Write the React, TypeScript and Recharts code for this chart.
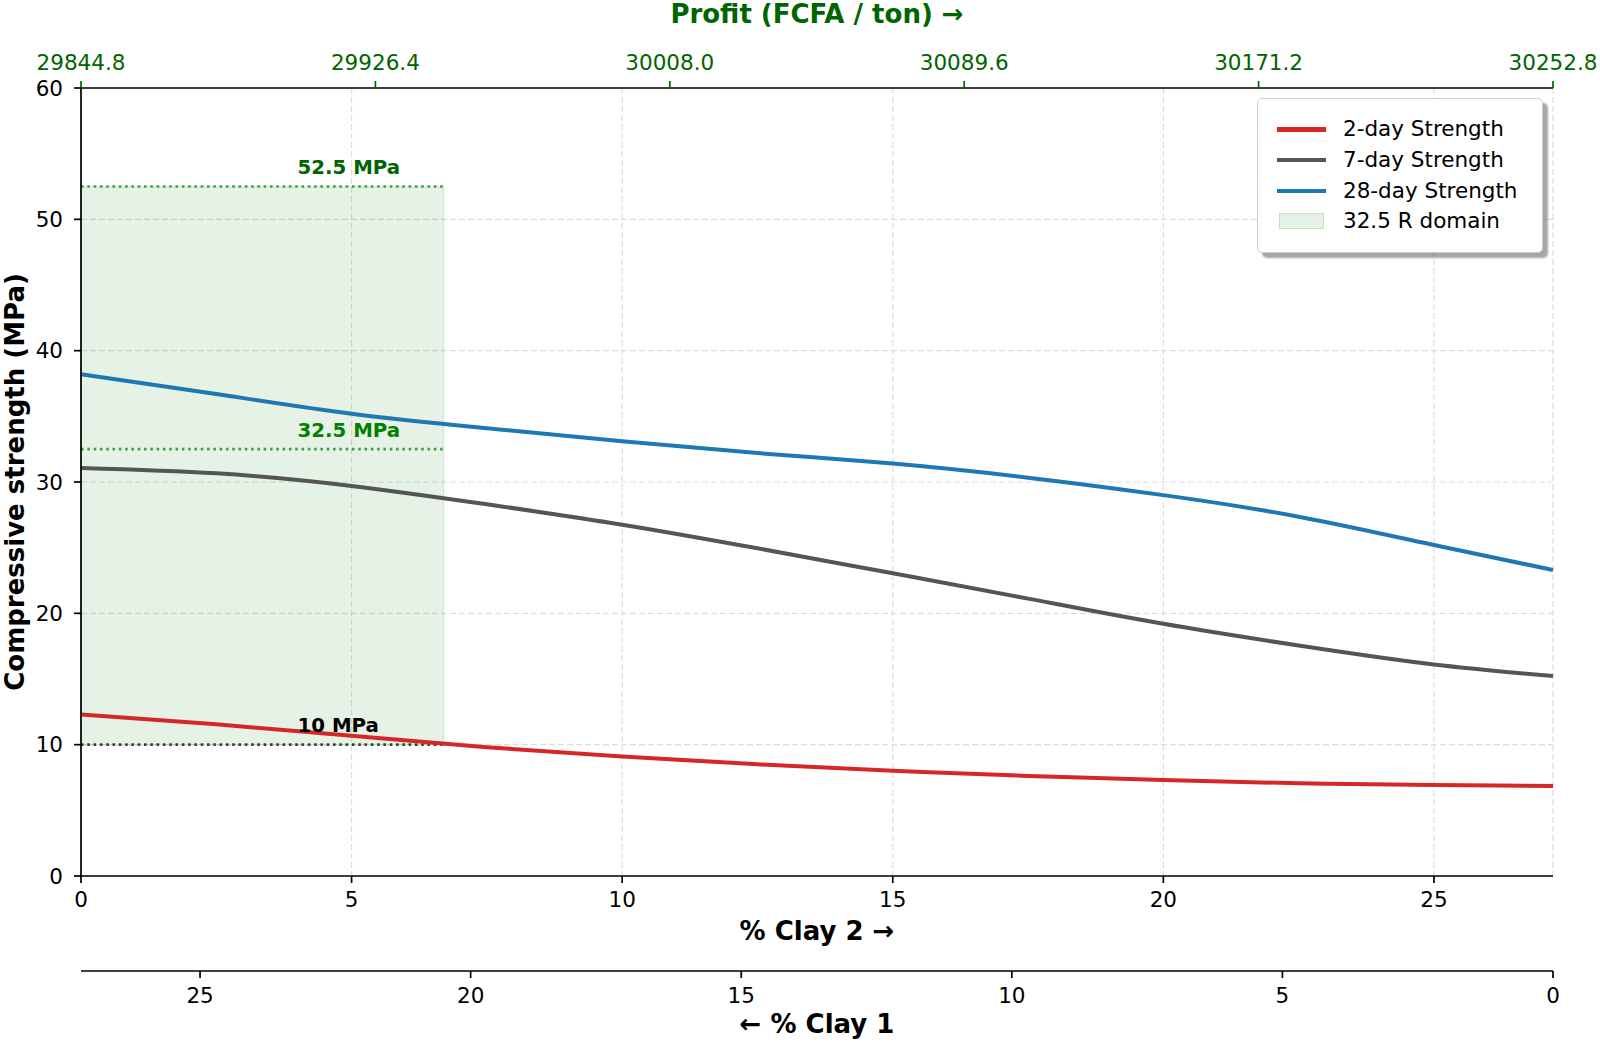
import React from 'react';
import {
  LineChart,
  Line,
  XAxis,
  YAxis,
  CartesianGrid,
  ReferenceArea,
  ReferenceLine,
  ReferenceDot,
  Legend,
} from 'recharts';

// ---------------- data ----------------
const clay2Pct = [0, 2.5, 5, 7.5, 10, 12.5, 15, 17.5, 20, 22.5, 25, 27.2];
const strength2d = [12.3, 11.55, 10.68, 9.8, 9.1, 8.5, 8.02, 7.62, 7.31, 7.06, 6.92, 6.85];
const strength7d = [31.07, 30.66, 29.7, 28.3, 26.75, 24.95, 23.05, 21.12, 19.2, 17.55, 16.1, 15.23];
const strength28d = [38.2, 36.7, 35.2, 34.1, 33.1, 32.2, 31.4, 30.33, 29.0, 27.36, 25.2, 23.3];

const CLAY_TOTAL = 27.2;
const clay2Ticks = [0, 5, 10, 15, 20, 25];
const clay1Ticks = [25, 20, 15, 10, 5, 0];
const strengthTicks = [0, 10, 20, 30, 40, 50, 60];
const profitTicks = [29844.8, 29926.4, 30008.0, 30089.6, 30171.2, 30252.8];

const domain32R = { x1: 0, x2: 6.7, y1: 10, y2: 52.5 };
const thresholdValues = [52.5, 32.5, 10];
const thresholdLabels = ['52.5 MPa', '32.5 MPa', '10 MPa'];
const thresholdLabelX = 4.0;

const seriesKeys = ['s2', 's7', 's28'];
const seriesNames = ['2-day Strength', '7-day Strength', '28-day Strength'];
const areaName = '32.5 R domain';

const P0 = profitTicks[0];
const P1 = profitTicks[profitTicks.length - 1];

const data = clay2Pct.map((c, i) => ({
  clay2: c,
  clay1: CLAY_TOTAL - c,
  profit: P0 + (c / CLAY_TOTAL) * (P1 - P0),
  s2: strength2d[i],
  s7: strength7d[i],
  s28: strength28d[i],
}));

// ---------------- styles ----------------
const seriesColors = ['#d62728', '#555555', '#1f77b4'];
const DARK_GREEN = '#006400';
const thresholdLineColors = ['rgba(0,128,0,0.72)', 'rgba(0,128,0,0.72)', 'rgba(0,0,0,0.72)'];
const thresholdTextColors = ['#006400', '#008000', '#000000'];

const W = 1600;
const H = 1042;
const PLOT_LEFT = 81;
const PLOT_TOP = 88;
const PLOT_W = 1472;
const PLOT_H = 788;
const FONT = '"DejaVu Sans", sans-serif';
const TICK_FS = 21.5;
const LABEL_FS = 26;

const tickStyle = { fill: '#000', fontSize: TICK_FS, fontFamily: FONT };
const lineStyle = { stroke: '#000', strokeWidth: 1.7 };

const boldLabel = (text: string, x: number, y: number, fill = '#000', rotate = false) => (
  <text
    x={x}
    y={y}
    textAnchor="middle"
    fontWeight="bold"
    fontSize={LABEL_FS}
    fontFamily={FONT}
    fill={fill}
    transform={rotate ? `rotate(-90 ${x} ${y})` : undefined}
  >
    {text}
  </text>
);

const renderLegend = () => (
  <div
    style={{
      position: 'relative',
      width: 286,
      height: 155,
      background: '#fff',
      border: '1px solid #cccccc',
      borderRadius: 5,
      boxShadow: '5px 5px 2px rgba(0,0,0,0.35)',
      boxSizing: 'border-box',
      fontFamily: FONT,
    }}
  >
    {[...seriesNames, areaName].map((name, i) => (
      <div
        key={name}
        style={{
          position: 'absolute',
          left: 0,
          top: 30 + 30.8 * i - 15,
          height: 30,
          width: '100%',
        }}
      >
        {i < 3 ? (
          <div
            style={{
              position: 'absolute',
              left: 19,
              top: 13,
              width: 49,
              height: 4.5,
              background: seriesColors[i],
            }}
          />
        ) : (
          <div
            style={{
              position: 'absolute',
              left: 21,
              top: 7,
              width: 45,
              height: 16,
              background: 'rgba(0,128,0,0.1)',
              border: '1px solid rgba(0,128,0,0.15)',
              boxSizing: 'border-box',
            }}
          />
        )}
        <div
          style={{
            position: 'absolute',
            left: 85,
            top: 0,
            height: 30,
            lineHeight: '30px',
            fontSize: TICK_FS,
            color: '#000',
            whiteSpace: 'nowrap',
          }}
        >
          {name}
        </div>
      </div>
    ))}
  </div>
);

export default function App() {
  return (
    <div style={{ position: 'absolute', left: 0, top: 0, width: W, height: H, fontFamily: FONT }}>
      <LineChart
        width={W}
        height={H}
        data={data}
        margin={{ top: 8, right: W - PLOT_LEFT - PLOT_W, bottom: 0, left: 8 }}
      >
        <CartesianGrid stroke="#dddddd" strokeDasharray="6 3" strokeWidth={1.2} />
        <ReferenceArea
          x1={domain32R.x1}
          x2={domain32R.x2}
          y1={domain32R.y1}
          y2={domain32R.y2}
          fill="#008000"
          fillOpacity={0.1}
          stroke="#008000"
          strokeOpacity={0.12}
          strokeWidth={1.5}
        />
        <XAxis
          dataKey="clay2"
          type="number"
          domain={[0, CLAY_TOTAL]}
          ticks={clay2Ticks}
          interval={0}
          height={95}
          tickSize={7}
          tickMargin={9}
          tick={tickStyle}
          tickLine={lineStyle}
          axisLine={lineStyle}
          label={{
            content: () => boldLabel('% Clay 2 →', PLOT_LEFT + PLOT_W / 2, PLOT_TOP + PLOT_H + 63.7),
          }}
        />
        <XAxis
          xAxisId="clay1"
          dataKey="clay1"
          type="number"
          reversed
          domain={[0, CLAY_TOTAL]}
          ticks={clay1Ticks}
          interval={0}
          height={71}
          tickSize={7}
          tickMargin={10}
          tick={tickStyle}
          tickLine={lineStyle}
          axisLine={lineStyle}
          label={{
            content: () => boldLabel('← % Clay 1', PLOT_LEFT + PLOT_W / 2, PLOT_TOP + PLOT_H + 95 + 61.6),
          }}
        />
        <XAxis
          xAxisId="top"
          orientation="top"
          dataKey="profit"
          type="number"
          domain={[P0, P1]}
          ticks={profitTicks}
          interval={0}
          tickFormatter={(v: number) => v.toFixed(1)}
          height={80}
          tickSize={7}
          tickMargin={11}
          tick={{ ...tickStyle, fill: DARK_GREEN }}
          tickLine={{ stroke: DARK_GREEN, strokeWidth: 1.7 }}
          axisLine={lineStyle}
          label={{
            content: () => boldLabel('Profit (FCFA / ton) →', PLOT_LEFT + PLOT_W / 2, 22.6, DARK_GREEN),
          }}
        />
        <YAxis
          type="number"
          domain={[0, 60]}
          ticks={strengthTicks}
          interval={0}
          width={73}
          tickSize={7}
          tickMargin={11}
          tick={tickStyle}
          tickLine={lineStyle}
          axisLine={lineStyle}
          label={{
            content: () =>
              boldLabel('Compressive strength (MPa)', 23.6, PLOT_TOP + PLOT_H / 2, '#000', true),
          }}
        />
        <YAxis
          yAxisId="right"
          orientation="right"
          type="number"
          domain={[0, 60]}
          width={0}
          tick={false}
          tickLine={false}
          axisLine={lineStyle}
        />
        {thresholdValues.map((v, i) => (
          <ReferenceLine
            key={'tl' + i}
            segment={[
              { x: domain32R.x1, y: v },
              { x: domain32R.x2, y: v },
            ]}
            stroke={thresholdLineColors[i]}
            strokeWidth={2.6}
            strokeDasharray="2.6 3.7"
          />
        ))}
        {seriesKeys.map((k, i) => (
          <Line
            key={k}
            type="natural"
            dataKey={k}
            name={seriesNames[i]}
            stroke={seriesColors[i]}
            strokeWidth={4}
            dot={false}
            activeDot={false}
            isAnimationActive={false}
          />
        ))}
        {thresholdValues.map((v, i) => (
          <ReferenceDot
            key={'td' + i}
            x={thresholdLabelX}
            y={v}
            r={0}
            fill="none"
            stroke="none"
            label={{
              content: (p: any) => {
                const vb = p.viewBox || {};
                return (
                  <text
                    x={vb.x}
                    y={vb.y - 12.5}
                    textAnchor="start"
                    fontWeight="bold"
                    fontSize={19.8}
                    fontFamily={FONT}
                    fill={thresholdTextColors[i]}
                  >
                    {thresholdLabels[i]}
                  </text>
                );
              },
            }}
          />
        ))}
        <Legend
          layout="vertical"
          align="center"
          verticalAlign="middle"
          content={renderLegend}
          wrapperStyle={{ left: 1257, top: 98, width: 286, height: 155 }}
        />
      </LineChart>
    </div>
  );
}
